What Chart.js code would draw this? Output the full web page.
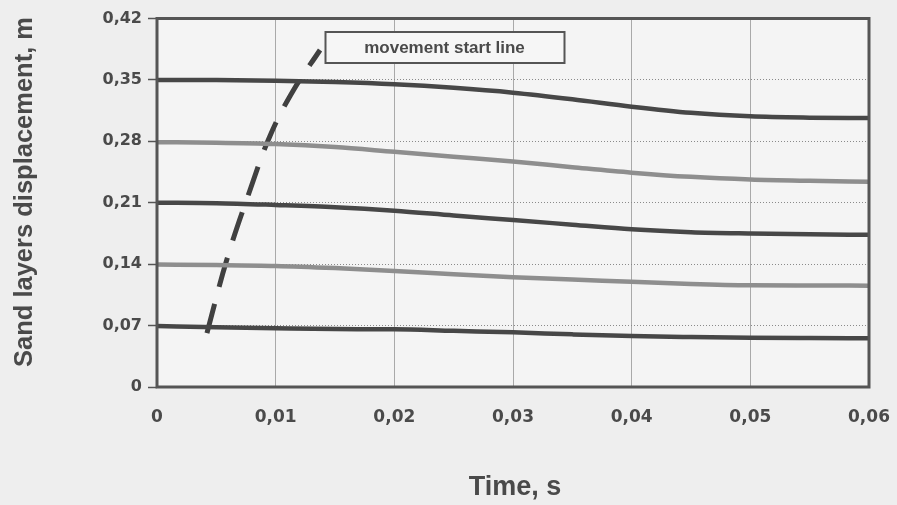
<!DOCTYPE html>
<html>
<head>
<meta charset="utf-8">
<script src="https://cdn.jsdelivr.net/npm/chart.js@4"></script>
<style>
  html, body { margin: 0; padding: 0; background: #eeeeee; }
  #wrap { width: 897px; height: 505px; }
</style>
</head>
<body>
<div id="wrap"><canvas id="c" width="897" height="505"></canvas></div>
<script>
// ---- data ----
const time = [0, 0.005, 0.01, 0.015, 0.02, 0.025, 0.03, 0.035, 0.04, 0.045, 0.05, 0.055, 0.06];
const layer1 = [0.350, 0.3498, 0.349, 0.3475, 0.345, 0.341, 0.3355, 0.328, 0.3195, 0.3125, 0.3085, 0.307, 0.3065];
const layer2 = [0.279, 0.2785, 0.277, 0.2735, 0.268, 0.2625, 0.257, 0.2505, 0.2443, 0.2395, 0.2365, 0.235, 0.234];
const layer3 = [0.210, 0.2095, 0.2075, 0.205, 0.201, 0.1955, 0.1903, 0.185, 0.1797, 0.1765, 0.175, 0.174, 0.1735];
const layer4 = [0.1395, 0.139, 0.138, 0.1355, 0.1322, 0.1285, 0.125, 0.1225, 0.120, 0.1175, 0.116, 0.1158, 0.1155];
const layer5 = [0.0695, 0.068, 0.0669, 0.066, 0.0658, 0.064, 0.0623, 0.060, 0.0581, 0.057, 0.0562, 0.0558, 0.0555];
const startLineTime = [0.00421, 0.0059, 0.00784, 0.00952, 0.01146, 0.01374];
const startLineDisp = [0.0615, 0.1459, 0.2245, 0.2861, 0.3374, 0.3841];
const yTicks = [0, 0.07, 0.14, 0.21, 0.28, 0.35, 0.42];
const xTicks = [0, 0.01, 0.02, 0.03, 0.04, 0.05, 0.06];
const xTitle = 'Time, s';
const yTitle = 'Sand layers displacement, m';
const noteText = 'movement start line';

function pts(xs, ys) { return xs.map((x, i) => ({ x: x, y: ys[i] })); }
function fmt(v) { return Math.abs(v) < 1e-9 ? '0' : v.toFixed(2).replace('.', ','); }

const DARK = '#474747';
const GREY = '#8e8e8e';
const TEXT = '#4a4a4a';

const layerStyle = (color, w) => ({
  borderColor: color, borderWidth: w, pointRadius: 0, fill: false,
  cubicInterpolationMode: 'monotone', tension: 0.4
});

const bgPlugin = {
  id: 'bg',
  beforeDraw(chart) {
    const { ctx, chartArea: a } = chart;
    ctx.save();
    ctx.fillStyle = '#eeeeee';
    ctx.fillRect(0, 0, chart.width, chart.height);
    ctx.fillStyle = '#f4f4f4';
    ctx.fillRect(a.left, a.top, a.right - a.left, a.bottom - a.top);
    ctx.restore();
  },
  afterDatasetsDraw(chart) {
    const { ctx, chartArea: a } = chart;
    ctx.save();
    // frame
    ctx.strokeStyle = '#555555';
    ctx.lineWidth = 3;
    ctx.strokeRect(a.left, a.top, a.right - a.left, a.bottom - a.top);
    // note box
    const bx = a.left + 168.5, by = a.top + 13.5, bw = 239, bh = 31;
    ctx.fillStyle = '#f6f6f6';
    ctx.fillRect(bx, by, bw, bh);
    ctx.strokeStyle = '#555555';
    ctx.lineWidth = 2;
    ctx.strokeRect(bx, by, bw, bh);
    ctx.fillStyle = TEXT;
    ctx.font = 'bold 17px "Liberation Sans", Arial, sans-serif';
    ctx.textAlign = 'center';
    ctx.textBaseline = 'alphabetic';
    ctx.fillText(noteText, bx + bw / 2 - 0.5, by + 20.5);
    ctx.restore();
  },
  afterDraw(chart) {
    const { ctx, chartArea: a } = chart;
    ctx.save();
    ctx.fillStyle = TEXT;
    ctx.textAlign = 'center';
    ctx.textBaseline = 'alphabetic';
    ctx.font = 'bold 27px "Liberation Sans", Arial, sans-serif';
    ctx.fillText(xTitle, (a.left + a.right) / 2 + 2, 494.5);
    ctx.translate(31.5, 192);
    ctx.rotate(-Math.PI / 2);
    ctx.font = 'bold 25.5px "Liberation Sans", Arial, sans-serif';
    ctx.fillText(yTitle, 0, 0);
    ctx.restore();
  }
};

new Chart(document.getElementById('c'), {
  type: 'line',
  data: {
    datasets: [
      Object.assign({ label: 'layer1', data: pts(time, layer1) }, layerStyle(DARK, 4.5)),
      Object.assign({ label: 'layer2', data: pts(time, layer2) }, layerStyle(GREY, 4.5)),
      Object.assign({ label: 'layer3', data: pts(time, layer3) }, layerStyle(DARK, 4.5)),
      Object.assign({ label: 'layer4', data: pts(time, layer4) }, layerStyle(GREY, 4.5)),
      Object.assign({ label: 'layer5', data: pts(time, layer5) }, layerStyle(DARK, 4.5)),
      {
        label: 'movement start line', data: pts(startLineTime, startLineDisp),
        borderColor: '#404040', borderWidth: 5, borderDash: [30, 18],
        pointRadius: 0, fill: false, tension: 0.4, borderCapStyle: 'butt'
      }
    ]
  },
  options: {
    responsive: false,
    animation: false,
    layout: { padding: { left: 0, top: 18.5, right: 28, bottom: 0 } },
    plugins: { legend: { display: false }, tooltip: { enabled: false } },
    scales: {
      x: {
        type: 'linear', min: 0, max: 0.06,
        afterBuildTicks(scale) { scale.ticks = xTicks.map(v => ({ value: v })); },
        afterFit(scale) { scale.height = 118; scale.paddingLeft = 0; scale.paddingRight = 0; },
        ticks: {
          callback: v => fmt(v), color: TEXT, padding: 20, maxRotation: 0, autoSkip: false,
          font: { family: '"DejaVu Sans", sans-serif', weight: 'bold', size: 17 }
        },
        grid: { color: '#a9a9a9', lineWidth: 1, drawTicks: false },
        border: { display: false }
      },
      y: {
        type: 'linear', min: 0, max: 0.42,
        afterBuildTicks(scale) { scale.ticks = yTicks.map(v => ({ value: v })); },
        afterFit(scale) { scale.width = 157; scale.paddingTop = 0; scale.paddingBottom = 0; },
        ticks: {
          callback: v => fmt(v), color: TEXT, padding: 6, autoSkip: false,
          font: { family: '"DejaVu Sans", sans-serif', weight: 'bold', size: 16 }
        },
        grid: {
          color: '#8a8a8a', lineWidth: 1, drawTicks: true, tickLength: 9,
          tickColor: '#555555', tickWidth: 1.5, tickBorderDash: []
        },
        border: { display: false, dash: [1, 2] }
      }
    }
  },
  plugins: [bgPlugin]
});
</script>
</body>
</html>
